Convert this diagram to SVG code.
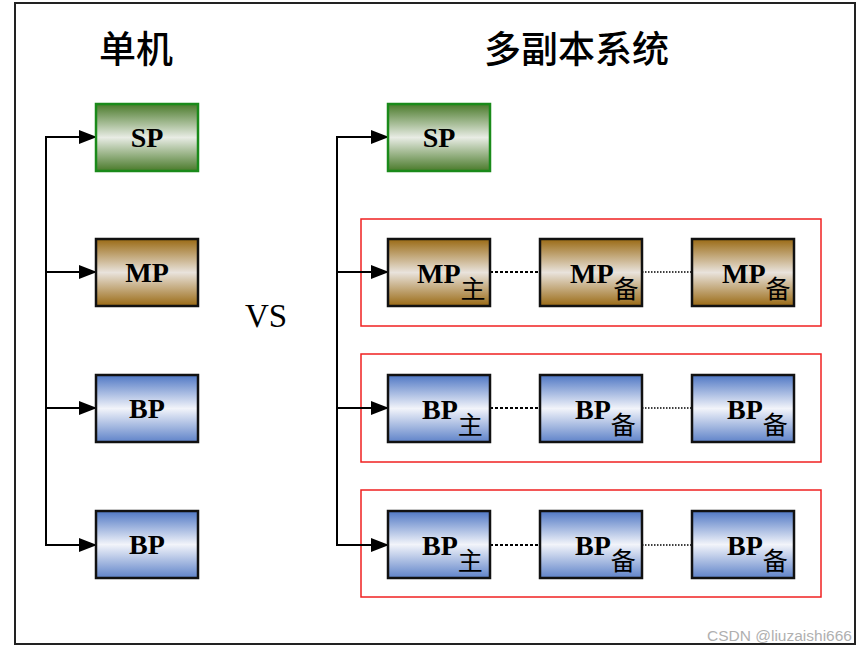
<svg xmlns="http://www.w3.org/2000/svg" width="862" height="651" viewBox="0 0 862 651">
<defs>
<linearGradient id="gGreen" x1="0" y1="0" x2="0" y2="1">
<stop offset="0" stop-color="#4a7a2a"/><stop offset="0.5" stop-color="#e8ece4"/><stop offset="1" stop-color="#4a7a2a"/>
</linearGradient>
<linearGradient id="gBrown" x1="0" y1="0" x2="0" y2="1">
<stop offset="0" stop-color="#9a6a14"/><stop offset="0.5" stop-color="#e9e3dc"/><stop offset="1" stop-color="#9a6a14"/>
</linearGradient>
<linearGradient id="gBlue" x1="0" y1="0" x2="0" y2="1">
<stop offset="0" stop-color="#4f77c4"/><stop offset="0.5" stop-color="#f2f4fa"/><stop offset="1" stop-color="#5f83c9"/>
</linearGradient>
<marker id="arr" markerWidth="18" markerHeight="14" refX="17" refY="7" orient="auto" markerUnits="userSpaceOnUse">
<path d="M0,0 L18,7 L0,14 Z" fill="#000"/>
</marker>
</defs>
<style>
.sp{fill:url(#gGreen);stroke:#1a8a1a;stroke-width:2.5}
.mp{fill:url(#gBrown);stroke:#111;stroke-width:2.5}
.bp{fill:url(#gBlue);stroke:#111;stroke-width:2.5}
.lbl{font-family:"Liberation Serif","Times New Roman",serif;font-weight:bold;font-size:28px;fill:#000}
.sub{font-family:"Noto Sans CJK SC","Liberation Serif",serif;font-weight:normal;font-size:25px;fill:#000}
.title{font-family:"Noto Sans CJK SC",sans-serif;font-size:37px;font-weight:500;fill:#000}
.grp{fill:none;stroke:#f02020;stroke-width:1.5}
.wire{fill:none;stroke:#000;stroke-width:2}
</style>
<rect x="15" y="3" width="840" height="641" fill="#fff" stroke="#222" stroke-width="2"/>
<text class="title" x="99" y="63">单机</text>
<text class="title" x="484" y="63">多副本系统</text>
<text x="266" y="327" font-family="Liberation Serif,serif" font-size="33" text-anchor="middle">VS</text>
<g id="groups">
<rect class="grp" x="361" y="219" width="460" height="107"/>
<rect class="grp" x="361" y="354" width="460" height="108"/>
<rect class="grp" x="361" y="490" width="460" height="107"/>
</g>
<g id="connectors">
<path class="wire" d="M80,137 H46 V545 H80"/>
<path class="wire" d="M46,137 H96" marker-end="url(#arr)"/>
<path class="wire" d="M46,272 H96" marker-end="url(#arr)"/>
<path class="wire" d="M46,408 H96" marker-end="url(#arr)"/>
<path class="wire" d="M46,545 H96" marker-end="url(#arr)"/>
<path class="wire" d="M372,137 H337 V545 H372"/>
<path class="wire" d="M337,137 H388" marker-end="url(#arr)"/>
<path class="wire" d="M337,272 H388" marker-end="url(#arr)"/>
<path class="wire" d="M337,408 H388" marker-end="url(#arr)"/>
<path class="wire" d="M337,545 H388" marker-end="url(#arr)"/>
<g stroke="#000" fill="none">
<path d="M490,272 H540" stroke-width="2" stroke-dasharray="3,2"/>
<path d="M642,272 H692" stroke-width="1.3" stroke-dasharray="1.5,1.5"/>
<path d="M490,408 H540" stroke-width="2" stroke-dasharray="3,2"/>
<path d="M642,408 H692" stroke-width="1.3" stroke-dasharray="1.5,1.5"/>
<path d="M490,545 H540" stroke-width="2" stroke-dasharray="3,2"/>
<path d="M642,545 H692" stroke-width="1.3" stroke-dasharray="1.5,1.5"/>
</g>
</g>
<g id="l-sp"><rect class="sp" x="96" y="104" width="102" height="67"/><text class="lbl" x="147" y="147" text-anchor="middle">SP</text></g>
<g id="l-mp"><rect class="mp" x="96" y="239" width="102" height="67"/><text class="lbl" x="147" y="282" text-anchor="middle">MP</text></g>
<g id="l-bp1"><rect class="bp" x="96" y="375" width="102" height="67"/><text class="lbl" x="147" y="418" text-anchor="middle">BP</text></g>
<g id="l-bp2"><rect class="bp" x="96" y="511" width="102" height="67"/><text class="lbl" x="147" y="554" text-anchor="middle">BP</text></g>
<g id="r-sp"><rect class="sp" x="388" y="104" width="102" height="67"/><text class="lbl" x="439" y="147" text-anchor="middle">SP</text></g>
<g id="r-mp1"><rect class="mp" x="388" y="239" width="102" height="67"/><text class="lbl" x="417" y="283">MP<tspan class="sub" dy="15">主</tspan></text></g>
<g id="r-mp2"><rect class="mp" x="540" y="239" width="102" height="67"/><text class="lbl" x="570" y="283">MP<tspan class="sub" dy="15">备</tspan></text></g>
<g id="r-mp3"><rect class="mp" x="692" y="239" width="102" height="67"/><text class="lbl" x="722" y="283">MP<tspan class="sub" dy="15">备</tspan></text></g>
<g id="r-bp1"><rect class="bp" x="388" y="375" width="102" height="67"/><text class="lbl" x="422" y="419">BP<tspan class="sub" dy="15">主</tspan></text></g>
<g id="r-bp2"><rect class="bp" x="540" y="375" width="102" height="67"/><text class="lbl" x="575" y="419">BP<tspan class="sub" dy="15">备</tspan></text></g>
<g id="r-bp3"><rect class="bp" x="692" y="375" width="102" height="67"/><text class="lbl" x="727" y="419">BP<tspan class="sub" dy="15">备</tspan></text></g>
<g id="r-bp4"><rect class="bp" x="388" y="511" width="102" height="67"/><text class="lbl" x="422" y="555">BP<tspan class="sub" dy="15">主</tspan></text></g>
<g id="r-bp5"><rect class="bp" x="540" y="511" width="102" height="67"/><text class="lbl" x="575" y="555">BP<tspan class="sub" dy="15">备</tspan></text></g>
<g id="r-bp6"><rect class="bp" x="692" y="511" width="102" height="67"/><text class="lbl" x="727" y="555">BP<tspan class="sub" dy="15">备</tspan></text></g>
<text x="707" y="641" font-family="Liberation Sans,Arial,sans-serif" font-size="15.5" fill="#b0b0b0">CSDN @liuzaishi666</text>
</svg>
